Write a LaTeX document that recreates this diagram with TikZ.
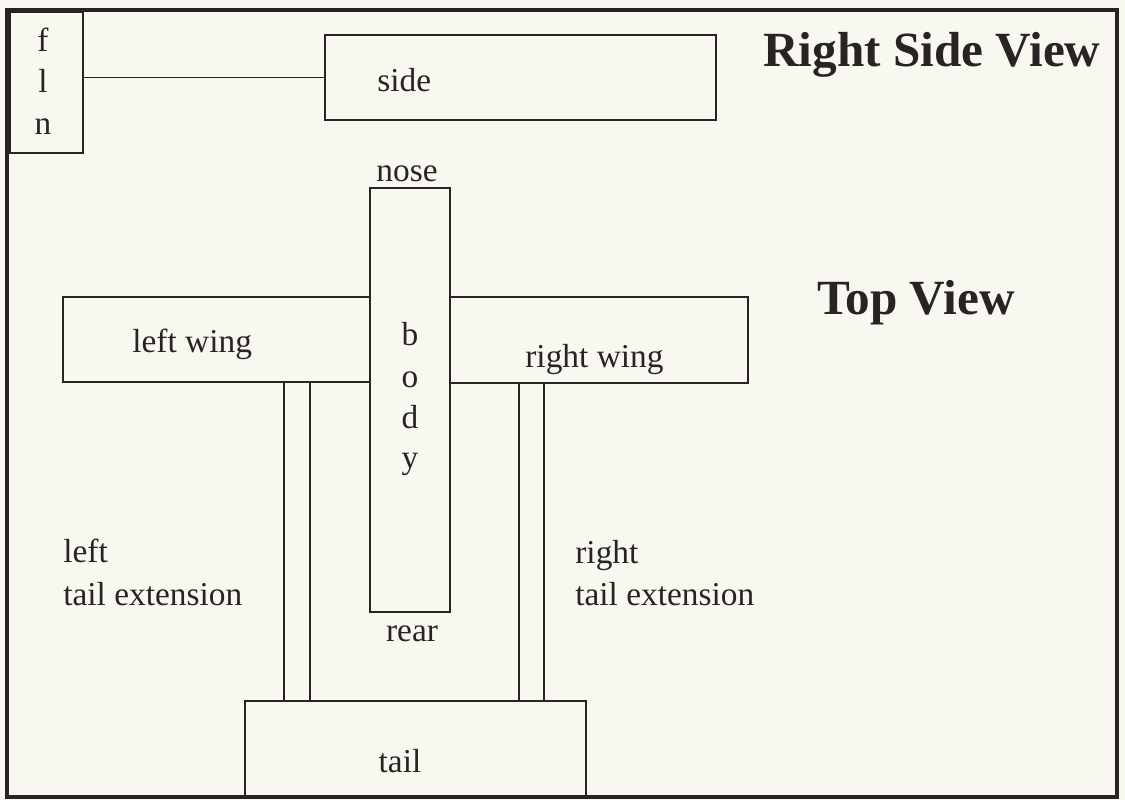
\documentclass[tikz,border=0pt]{standalone}
\usepackage{fontspec}
\setmainfont{Liberation Serif}
\usetikzlibrary{fit}
\definecolor{paper}{RGB}{248,248,241}
\definecolor{ink}{RGB}{40,36,36}
\tikzset{
  box/.style={draw=ink, line width=0.8pt, inner sep=0pt, fit={#1}},
  lbl/.style={inner sep=0pt, text=ink, font=\fontsize{19}{24}\selectfont},
  ttl/.style={inner sep=0pt, text=ink, font=\fontsize{28}{34}\selectfont\bfseries, anchor=base west},
}
\begin{document}
\begin{tikzpicture}[x=0.02cm, y=-0.02cm]
\useasboundingbox (0,0) rectangle (1125,800);
\fill[paper] (0,0) rectangle (1125,800);
\draw[ink, line width=1.8pt] (7,10) rectangle (1117,797);

% right side view
\node[box={(10,12) (83,153)}] (fin) {};
\node[box={(325,35) (716,120)}] (side) {};
\draw[ink, line width=0.8pt] (fin.east |- side.west) -- (side.west);
\node[lbl, anchor=base] (f1) at (43,52) {f};
\node[lbl, anchor=base] (f2) at (43,93) {l};
\node[lbl, anchor=base] (f3) at (43,135) {n};
\node[lbl, anchor=base west] (sidet) at (377,92) {side};
\node[ttl] (rsv) at (763,67) {Right Side View};

% top view
\node[box={(63,297) (370,382)}] (lwing) {};
\node[box={(450,297) (748,383)}] (rwing) {};
\node[box={(370,188) (450,612)}] (body) {};
\node[box={(284,382) (310,701)}] (lext) {};
\node[box={(519,383) (544,701)}] (rext) {};
\node[box={(245,701) (586,797)}] (tail) {};

\node[lbl, anchor=base] (nose) at (407,182) {nose};
\node[lbl, anchor=base] (b1) at (410,345) {b};
\node[lbl, anchor=base] (b2) at (410,387) {o};
\node[lbl, anchor=base] (b3) at (410,428) {d};
\node[lbl, anchor=base] (b4) at (410,468) {y};
\node[lbl, anchor=base] (rear) at (412,641) {rear};
\node[lbl, anchor=base west] (lwt) at (132,353) {left wing};
\node[lbl, anchor=base west] (rwt) at (525,367) {right wing};
\node[lbl, anchor=base west] (le1) at (63,562) {left};
\node[lbl, anchor=base west] (le2) at (63,605) {tail extension};
\node[lbl, anchor=base west] (re1) at (575,563) {right};
\node[lbl, anchor=base west] (re2) at (575,605) {tail extension};
\node[lbl, anchor=base] (tailt) at (400,772) {tail};
\node[ttl] (tv) at (817,315) {Top View};
\end{tikzpicture}
\end{document}
